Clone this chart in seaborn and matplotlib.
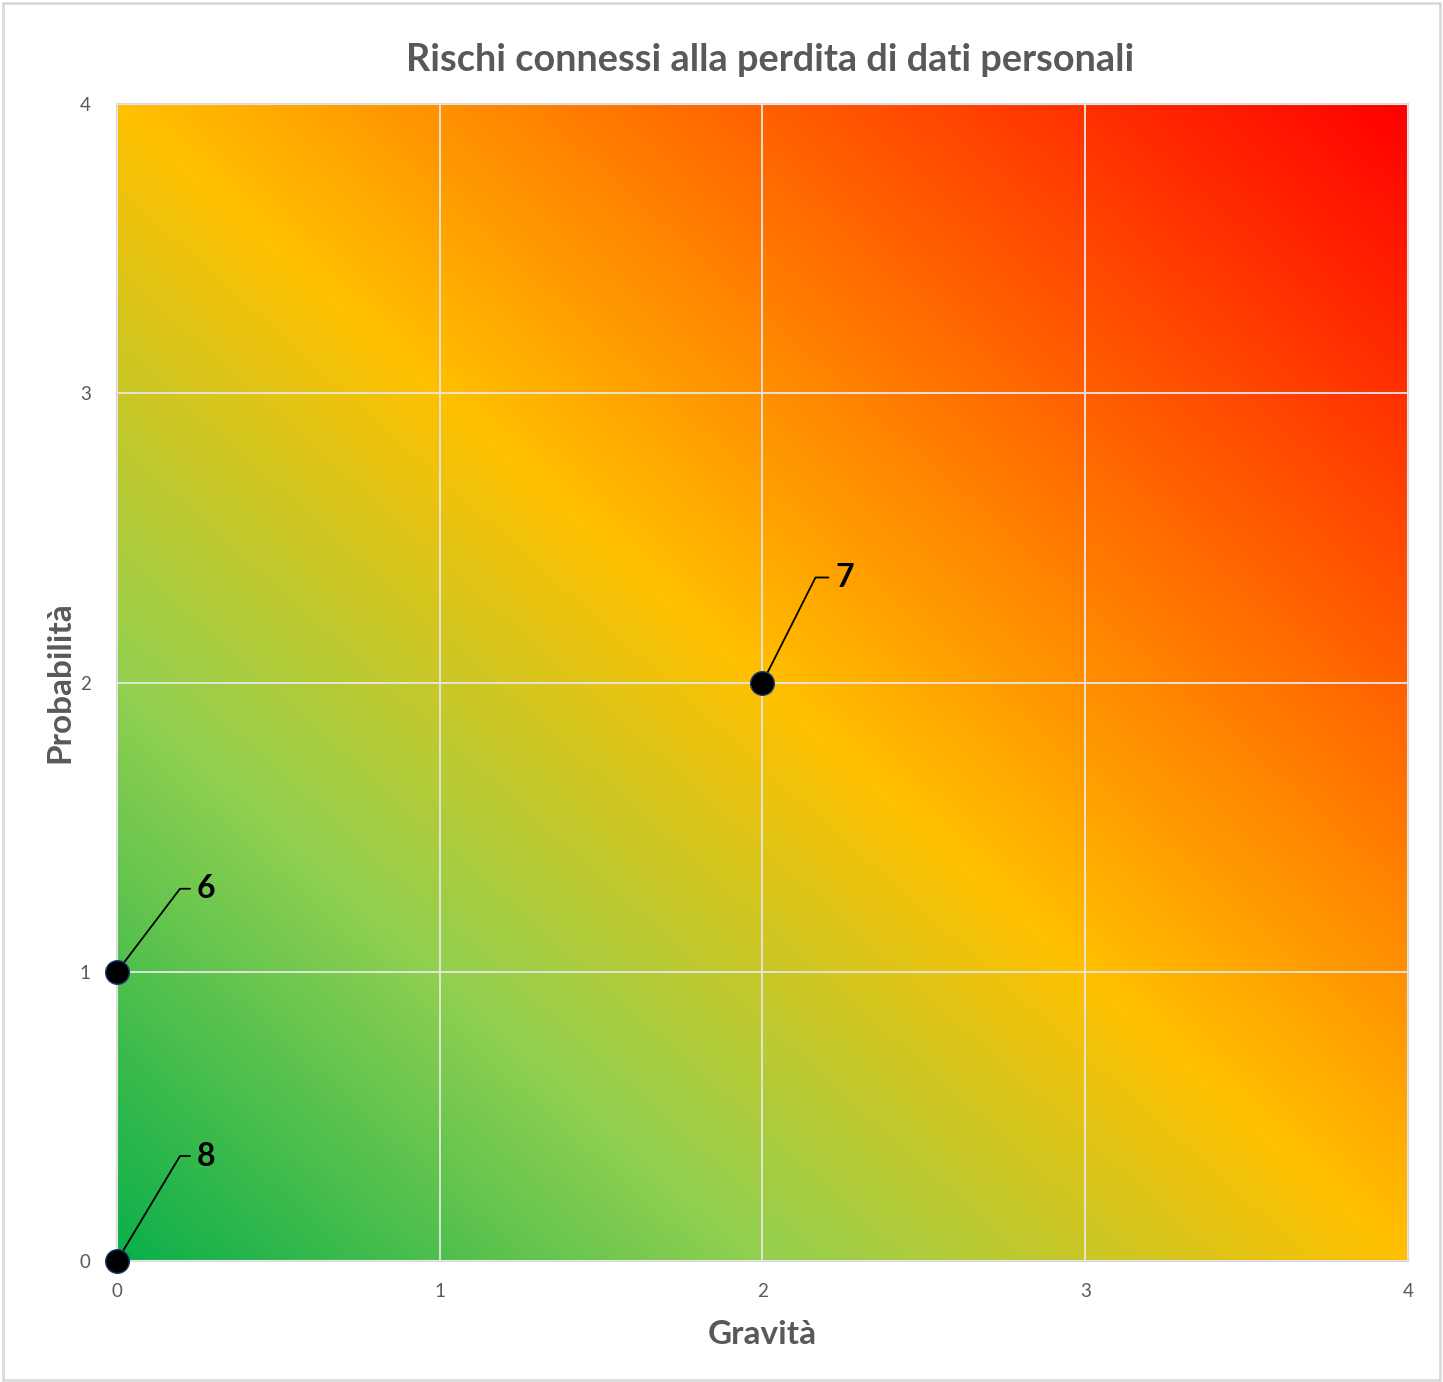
import numpy as np
import pandas as pd
import matplotlib
matplotlib.use("Agg")
import matplotlib.pyplot as plt
from matplotlib.colors import LinearSegmentedColormap
from matplotlib.patches import Rectangle
import seaborn as sns

# Risk items: identifier, severity (Gravità) and likelihood (Probabilità)
risk_ids = ["6", "7", "8"]
gravita = [0, 2, 0]
probabilita = [1, 2, 0]

x_ticks = [0, 1, 2, 3, 4]
y_ticks = [0, 1, 2, 3, 4]

title = "Rischi connessi alla perdita di dati personali"
x_label = "Gravità"
y_label = "Probabilità"

df = pd.DataFrame({"id": risk_ids, "Gravità": gravita, "Probabilità": probabilita})

sns.set_theme(style="white")
plt.rcParams["font.family"] = ["Lato", "DejaVu Sans"]

W, H = 1443, 1382
fig = plt.figure(figsize=(W / 100, H / 100), dpi=100)
ax = fig.add_axes([117 / W, 1 - 1261 / H, (1408 - 117) / W, (1261 - 104) / H])

# Diagonal green -> yellow -> red risk background
risk_cmap = LinearSegmentedColormap.from_list(
    "risk",
    [(0.0, "#0BAF4B"), (0.25, "#92D050"), (0.5, "#FFC000"), (1.0, "#FF0000")],
)
gx, gy = np.meshgrid(np.linspace(0, 4, 600), np.linspace(0, 4, 600))
ax.imshow((gx + gy) / 8, extent=[0, 4, 0, 4], origin="lower", cmap=risk_cmap,
          vmin=0, vmax=1, aspect="auto", interpolation="bilinear", zorder=0)

ax.set_xlim(0, 4)
ax.set_ylim(0, 4)
ax.set_xticks(x_ticks)
ax.set_yticks(y_ticks)
ax.set_xticklabels([str(t) for t in x_ticks])
ax.set_yticklabels([str(t) for t in y_ticks])
ax.grid(True, color="#E6E6E6", linewidth=1.3, zorder=1)
ax.set_axisbelow(False)
for s in ax.spines.values():
    s.set_color("#D9D9D9")
    s.set_linewidth(1.5)
ax.tick_params(axis="both", length=0, labelsize=13.5, labelcolor="#595959")
ax.tick_params(axis="x", pad=16)
ax.tick_params(axis="y", pad=19)

# Leader lines and labels for each risk point
px_x = (1408 - 117) / 4
px_y = (1261 - 104) / 4
label_offsets = {"6": (63, 83, 10), "7": (53, 105, 13), "8": (63, 105, 10)}
for _, r in df.iterrows():
    dx, dy, hz = label_offsets[r["id"]]
    x0, y0 = r["Gravità"], r["Probabilità"]
    x1, y1 = x0 + dx / px_x, y0 + dy / px_y
    x2 = x1 + hz / px_x
    ax.plot([x0, x1, x2], [y0, y1, y1], color="black", linewidth=1.3,
            zorder=3, clip_on=False)
    ax.text(x2 + 7 / px_x, y1, r["id"], fontsize=23, fontweight="bold",
            color="black", ha="left", va="center", zorder=4)

sns.scatterplot(data=df, x="Gravità", y="Probabilità", ax=ax, s=290,
                color="black", edgecolor="#1F3B73", linewidth=1.0,
                zorder=5, clip_on=False, legend=False)

ax.set_xlabel(x_label, fontsize=24, fontweight="bold", color="#595959", labelpad=14)
ax.set_ylabel(y_label, fontsize=24, fontweight="bold", color="#595959", labelpad=4)

fig.text(770 / W, 1 - 60 / H, title, ha="center", va="center",
         fontsize=27.3, fontweight="bold", color="#595959")

# Light chart-area border
fig.patches.append(Rectangle((3 / W, 2 / H), (1440 - 3) / W, (1380 - 3) / H,
                             transform=fig.transFigure, fill=False,
                             edgecolor="#D9D9D9", linewidth=2))

fig.savefig("out.png", dpi=100)
